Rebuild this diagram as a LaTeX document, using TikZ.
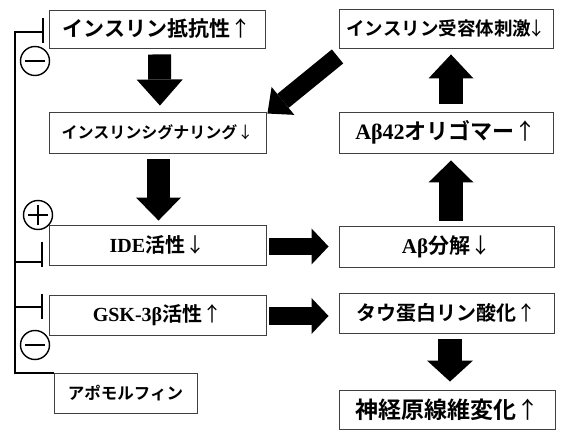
\documentclass[tikz,border=0pt]{standalone}
\usepackage{fontspec}
\usetikzlibrary{arrows.meta,calc}
\newfontfamily\jpb{Noto Sans CJK JP Bold}
\newfontfamily\jpr{Noto Sans CJK JP}
\newfontfamily\tms{Liberation Serif}
\newcommand\fsz[1]{\fontsize{#1}{#1}\selectfont}
\newcommand\arr[1]{{\mdseries\jpr #1}}
\begin{document}
\begin{tikzpicture}[x=1pt,y=-1pt,
  box/.style={draw=black!75,line width=0.9pt,inner sep=0pt,anchor=center},
  blk/.style n args={3}{line width=#1,-{Triangle[width=#2,length=#3,line width=0pt]}},
  inh/.style={line width=2pt,black},
  sign/.style={circle,draw,line width=1.4pt,minimum size=29pt,inner sep=0pt},
  signline/.style={line width=2pt}]
\useasboundingbox (0,0) rectangle (563,430);
% left column
\node[box,minimum width=216pt,minimum height=38pt] (b1) at (157,29)
  {\fsz{21pt}\jpb インスリン抵抗性\arr{↑}};
\node[box,minimum width=217pt,minimum height=41pt] (b2) at (157.5,132.5)
  {\fsz{16pt}\jpb インスリンシグナリング\arr{↓}};
\node[box,minimum width=217pt,minimum height=40pt] (b3) at (157.5,245)
  {\fsz{20pt}{\tms\bfseries IDE}\jpb 活性\arr{↓}};
\node[box,minimum width=217pt,minimum height=40pt] (b4) at (157.5,315)
  {\fsz{20pt}{\tms\bfseries GSK-3β}\jpb 活性\arr{↑}};
\node[box,minimum width=143pt,minimum height=40pt] (b5) at (125.5,393)
  {\fsz{16.5pt}\jpb アポモルフィン};
% right column
\node[box,minimum width=214pt,minimum height=39pt] (b6) at (446,28.5)
  {\fsz{18.5pt}\jpb インスリン受容体刺激\kern-4pt\arr{↓}};
\node[box,minimum width=214pt,minimum height=41pt] (b7) at (446,132.5)
  {\fsz{22pt}{\tms\bfseries Aβ42}\jpb オリゴマー\arr{↑}};
\node[box,minimum width=215pt,minimum height=41pt] (b8) at (446.5,246.5)
  {\fsz{21pt}{\tms\bfseries Aβ}\jpb 分解\arr{↓}};
\node[box,minimum width=215pt,minimum height=40pt] (b9) at (446.5,313)
  {\fsz{20pt}\jpb タウ蛋白リン酸化\arr{↑}};
\node[box,minimum width=216pt,minimum height=39pt] (b10) at (447,409.5)
  {\fsz{23pt}\jpb 神経原線維変化\arr{↑}};
% block arrows
\draw[blk={23pt}{46pt}{26pt},shorten <=6pt,shorten >=6pt]
  ([xshift=2.5pt]b1.south) -- ([xshift=2.5pt]b2.north);
\draw[blk={23pt}{45pt}{23pt},shorten <=6pt,shorten >=4pt]
  ([xshift=1pt]b2.south) -- ([xshift=1pt]b3.north);
\draw[blk={17pt}{36pt}{17pt},shorten <=3pt,shorten >=10pt]
  ([yshift=-1.5pt]b3.east) -- ([yshift=-1.5pt]b3.east -| b8.west);
\draw[blk={18pt}{36pt}{17pt},shorten <=3pt,shorten >=10pt]
  ([yshift=-1pt]b4.east) -- ([yshift=-1pt]b4.east -| b9.west);
\draw[blk={24pt}{45pt}{22pt},shorten <=5pt,shorten >=7pt]
  ([xshift=4.5pt]b8.north) -- ([xshift=4.5pt]b8.north |- b7.south);
\draw[blk={24pt}{45pt}{24pt},shorten <=8pt,shorten >=6pt]
  ([xshift=5pt]b7.north) -- ([xshift=5pt]b7.north |- b6.south);
\draw[blk={24pt}{46pt}{21pt},shorten <=6pt,shorten >=8pt]
  ([xshift=3.5pt]b9.south) -- ([xshift=3.5pt]b9.south |- b10.north);
\coordinate (dt) at ($(b6.south west)+(-1,8)$);
\coordinate (dh) at ($(b2.north east)+(1,2)$);
\draw[blk={18pt}{36pt}{20pt}] (dt) -- (dh);
% inhibition bracket
\coordinate (lt) at (15,32);
\draw[inh] (b5.north west) -| (lt) -- (43,32);
\draw[inh] (43,18) -- (43,43);
\draw[inh] (15,262) -- (42,262);
\draw[inh] (42,242) -- (42,267);
\draw[inh] (15,307) -- (42,307);
\draw[inh] (42,294) -- (42,319);
% signs
\node[sign] (m1) at (35,61) {};
\draw[signline] ([xshift=-10pt]m1.center) -- ([xshift=10pt]m1.center);
\node[sign] (p1) at (38,215) {};
\draw[signline] ([xshift=-10pt]p1.center) -- ([xshift=10pt]p1.center);
\draw[signline] ([yshift=-10pt]p1.center) -- ([yshift=10pt]p1.center);
\node[sign] (m2) at (35,345) {};
\draw[signline] ([xshift=-10pt]m2.center) -- ([xshift=10pt]m2.center);
\end{tikzpicture}
\end{document}
